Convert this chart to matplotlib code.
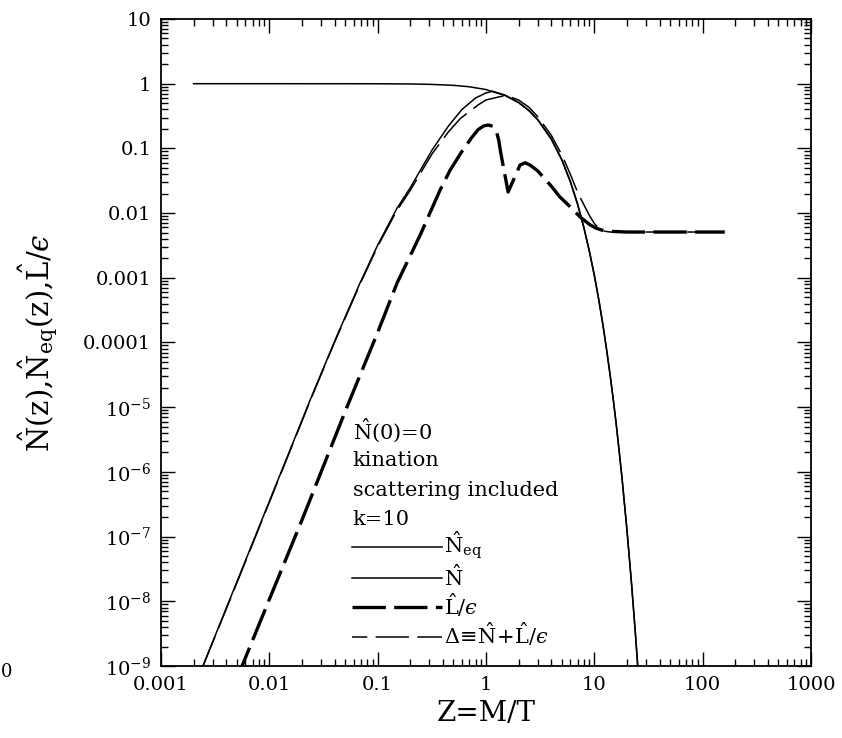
import matplotlib
matplotlib.use("Agg")
import matplotlib.pyplot as plt
from matplotlib.ticker import FixedLocator, LogLocator, NullFormatter, FixedFormatter

plt.rcParams['font.family'] = ['DejaVu Serif']
plt.rcParams['mathtext.fontset'] = 'dejavuserif'
plt.rcParams['lines.scale_dashes'] = False

# ---------------- data ----------------
z_eq = [0.002, 0.01, 0.05, 0.1, 0.2, 0.3, 0.5, 0.7, 1.0, 1.5, 2.0, 2.5, 3.0, 4.0, 5.0,
        6.0, 7.0, 8.0, 9.0, 10.0, 11.0, 12.0, 13.0, 14.0, 15.0, 16.0, 17.0, 18.0,
        20.0, 22.0, 24.0, 26.0]
n_eq = [1.0, 1.0, 0.9994, 0.9975, 0.990, 0.978, 0.944, 0.897, 0.812, 0.657, 0.508, 0.380,
        0.277, 0.139, 0.0664, 0.0305, 0.0136, 5.93e-3, 2.54e-3, 1.08e-3, 4.5e-4, 1.86e-4,
        7.6e-5, 3.1e-5, 1.26e-5, 5.1e-6, 2.0e-6, 8.1e-7, 1.27e-7, 1.96e-8, 3.0e-9, 4.6e-10]

z_n = [0.002, 0.005, 0.01, 0.0238, 0.04, 0.0687, 0.1, 0.15, 0.2, 0.318, 0.45, 0.6, 0.8,
       1.0, 1.15, 1.5, 2.0, 2.5, 3.0, 4.0, 5.0, 6.0, 7.0, 8.0, 9.0, 10.0, 11.0, 12.0,
       13.0, 14.0, 15.0, 16.0, 17.0, 18.0, 20.0, 22.0, 24.0, 26.0]
n_val = [4.4e-10, 1.97e-8, 3.5e-7, 1.29e-5, 1.04e-4, 8.3e-4, 3.2e-3, 0.0117, 0.0247, 0.0945,
         0.222, 0.40, 0.60, 0.72, 0.765, 0.665, 0.515, 0.385, 0.281, 0.142, 0.068, 0.0312,
         0.0140, 6.1e-3, 2.6e-3, 1.10e-3, 4.6e-4, 1.9e-4, 7.6e-5, 3.1e-5, 1.26e-5, 5.1e-6,
         2.0e-6, 8.1e-7, 1.27e-7, 1.96e-8, 3.0e-9, 4.6e-10]

z_l = [0.005, 0.0056, 0.01, 0.02, 0.052, 0.1, 0.151, 0.2, 0.247, 0.377, 0.466, 0.6, 0.745,
       0.846, 0.95, 1.05, 1.15, 1.25, 1.31, 1.36, 1.47, 1.6, 1.8, 2.06, 2.3, 2.55, 3.0, 4.07,
       4.8, 6.0, 7.4, 9.1, 10.5, 12.0, 15.0, 20.0, 50.0, 100.0, 160.0]
l_val = [6.4e-10, 1e-9, 1.07e-8, 1.8e-7, 1.0e-5, 1.43e-4, 8.3e-4, 2.2e-3, 4.6e-3, 0.0228,
         0.046, 0.09, 0.15, 0.195, 0.222, 0.23, 0.22, 0.18, 0.135, 0.09, 0.045, 0.0212, 0.033,
         0.0553, 0.060, 0.0553, 0.045, 0.0253, 0.0178, 0.0125, 0.0087, 0.0066, 0.0058,
         0.0054, 0.0052, 0.0051, 0.0051, 0.0051, 0.0051]

z_d = [0.002, 0.005, 0.01, 0.0238, 0.04, 0.0687, 0.1, 0.15, 0.2, 0.318, 0.45, 0.58, 0.846,
       1.0, 1.29, 1.44, 1.6, 2.0, 2.5, 3.0, 4.0, 5.0, 6.0, 7.0, 8.0, 9.0, 10.0, 11.0, 12.0,
       14.0, 20.0, 50.0, 100.0, 160.0]
d_val = [4.4e-10, 1.9e-8, 3.4e-7, 1.25e-5, 1.01e-4, 8.0e-4, 3.06e-3, 0.0109, 0.0225, 0.0826,
         0.18, 0.29, 0.47, 0.56, 0.62, 0.645, 0.64, 0.56, 0.43, 0.31, 0.160, 0.080, 0.040,
         0.021, 0.0135, 0.0092, 0.0069, 0.0058, 0.0053, 0.0051, 0.0051, 0.0051, 0.0051, 0.0051]

x_ticks = [1e-3, 1e-2, 1e-1, 1, 10, 100, 1000]
x_ticklabels = ['0.001', '0.01', '0.1', '1', '10', '100', '1000']
y_ticks = [1e-9, 1e-8, 1e-7, 1e-6, 1e-5, 1e-4, 1e-3, 1e-2, 1e-1, 1, 10]
y_ticklabels = [r'$\mathregular{10^{-9}}$', r'$\mathregular{10^{-8}}$', r'$\mathregular{10^{-7}}$',
                r'$\mathregular{10^{-6}}$', r'$\mathregular{10^{-5}}$', '0.0001', '0.001',
                '0.01', '0.1', '1', '10']

EPS = '\u03f5'
annot_lines = [r'$\hat{\mathrm{N}}$(0)=0', 'kination', 'scattering included', 'k=10']
labels = [r'$\hat{\mathrm{N}}_{\mathrm{eq}}$', r'$\hat{\mathrm{N}}$',
          r'$\hat{\mathrm{L}}/' + EPS + '$',
          r'$\Delta\!\equiv\!\hat{\mathrm{N}}\!+\!\hat{\mathrm{L}}/' + EPS + '$']
y_label = (r'$\hat{\mathrm{N}}(\mathrm{z}){,}\hat{\mathrm{N}}_{\mathrm{eq}}(\mathrm{z}){,}'
           r'\hat{\mathrm{L}}/' + EPS + '$')

# ---------------- figure ----------------
W, H = 842, 738
fig = plt.figure(figsize=(W / 100, H / 100), dpi=100)
L0, R0, T0, B0 = 161, 811, 19, 666
ax = fig.add_axes([L0 / W, 1 - B0 / H, (R0 - L0) / W, (B0 - T0) / H])
ax.set_xscale('log')
ax.set_yscale('log')

thin = 1.1
thick = 2.4

h1, = ax.plot(z_eq, n_eq, color='black', lw=thin, solid_joinstyle='round')
h2, = ax.plot(z_n, n_val, color='black', lw=thin, solid_joinstyle='round')
h3, = ax.plot(z_l, l_val, color='black', lw=thick, linestyle=(0, (24, 6)))
h4, = ax.plot(z_d, d_val, color='black', lw=thin, linestyle=(13, (24, 6)))

ax.set_xlim(1e-3, 1e3)
ax.set_ylim(1e-9, 10)

ax.xaxis.set_major_locator(FixedLocator(x_ticks))
ax.xaxis.set_major_formatter(FixedFormatter(x_ticklabels))
ax.yaxis.set_major_locator(FixedLocator(y_ticks))
ax.yaxis.set_major_formatter(FixedFormatter(y_ticklabels))
ax.xaxis.set_minor_locator(LogLocator(base=10, subs=range(2, 10), numticks=100))
ax.yaxis.set_minor_locator(LogLocator(base=10, subs=range(2, 10), numticks=100))
ax.xaxis.set_minor_formatter(NullFormatter())
ax.yaxis.set_minor_formatter(NullFormatter())

ax.tick_params(which='both', direction='in', top=True, right=True, width=1.0)
ax.tick_params(which='major', length=10, labelsize=14, pad=7)
ax.tick_params(which='minor', length=5)
for s in ax.spines.values():
    s.set_linewidth(1.3)

ax.set_xlabel('Z=M/T', fontsize=20)
ax.xaxis.set_label_coords(0.5, -0.073)
ax.xaxis.label.set_va('center')
ax.set_ylabel(y_label, fontsize=21)
ax.yaxis.set_label_coords(-0.189, 0.5)
ax.yaxis.label.set_va('center')

# annotation block
ys = [0.363, 0.317, 0.272, 0.227]
for t, yy in zip(annot_lines, ys):
    ax.text(0.295, yy, t, transform=ax.transAxes, fontsize=15, va='center', ha='left')

leg = ax.legend([h1, h2, h3, h4], labels, loc='upper left', bbox_to_anchor=(0.294, 0.21),
                frameon=False, fontsize=15, handlelength=4.3, handletextpad=0.1,
                borderpad=0, borderaxespad=0, labelspacing=0.08)

# fragment of the neighbouring panel seen at the left edge
fig.text(1 / W, 1 - 672 / H, '0', fontsize=13, va='center', ha='left')

fig.savefig('out.png', dpi=100)
